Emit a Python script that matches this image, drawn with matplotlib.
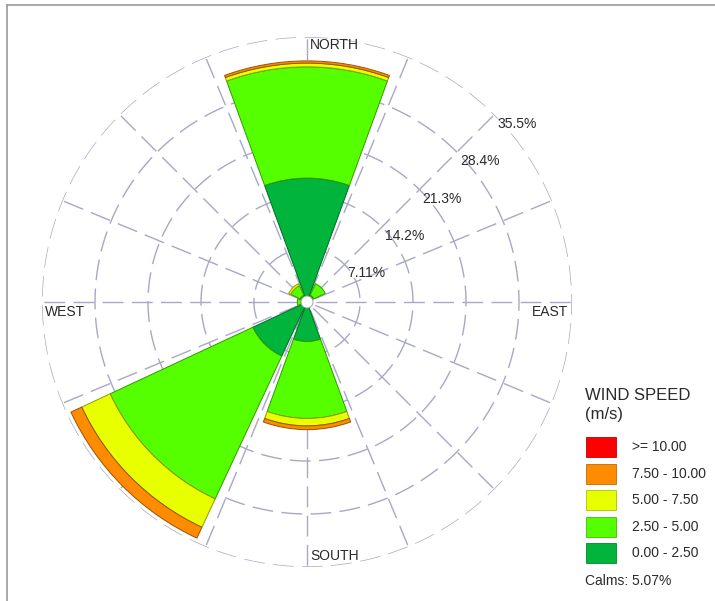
import numpy as np
import matplotlib
matplotlib.use("Agg")
import matplotlib.pyplot as plt
from matplotlib.patches import Rectangle, Circle

plt.rcParams["font.family"] = ["Liberation Sans", "DejaVu Sans"]

# ---- data: % frequency per direction sector, per speed class -------------------------
directions = ["N", "NE", "E", "SE", "S", "SW", "W", "NW"]
dir_deg = [0, 45, 90, 135, 180, 225, 270, 315]
speed_0_25 = [16.6, 1.0, 0.0, 0.0, 5.3, 8.0, 0.8, 1.0]
speed_25_5 = [14.9, 1.7, 0.0, 0.0, 10.3, 21.1, 0.5, 1.4]
speed_5_75 = [0.5, 0.0, 0.0, 0.0, 1.0, 4.2, 0.0, 0.3]
speed_75_10 = [0.3, 0.0, 0.0, 0.0, 0.5, 1.6, 0.0, 0.0]
speed_10_up = [0.0, 0.0, 0.0, 0.0, 0.0, 0.0, 0.0, 0.0]
calms_pct = 5.07

ring_values = [7.11, 14.2, 21.3, 28.4, 35.5]
ring_labels = ["7.11%", "14.2%", "21.3%", "28.4%", "35.5%"]
speed_labels = [">= 10.00", "7.50 - 10.00", "5.00 - 7.50", "2.50 - 5.00", "0.00 - 2.50"]

C = {"red": "#ff0000", "orange": "#ff8c00", "yellow": "#e8ff00",
     "lgreen": "#55ff00", "dgreen": "#00b43c", "grid": "#a8a8c6", "ink": "#2a2a2a"}
class_colors = [C["dgreen"], C["lgreen"], C["yellow"], C["orange"], C["red"]]


def darker(hexcol, f=0.6):
    rgb = matplotlib.colors.to_rgb(hexcol)
    return tuple(c * f for c in rgb)


W, H = 715, 601
fig = plt.figure(figsize=(W / 100, H / 100), dpi=100)

# polar axes: centre at (307, 302) px, outer ring radius 265 px
cx, cy, R = 307, 302, 265
ax = fig.add_axes([(cx - R) / W, (H - cy - R) / H, 2 * R / W, 2 * R / H], projection="polar")
ax.set_theta_zero_location("N")
ax.set_theta_direction(-1)
ax.set_ylim(0, ring_values[-1])
ax.grid(False)
ax.set_xticks([]); ax.set_yticks([])
ax.spines["polar"].set_visible(False)
ax.patch.set_alpha(0)

# dashed grid: rings + 16 spokes
dash = (0, (15, 6))
tt = np.linspace(0, 2 * np.pi, 361)
for rv in ring_values:
    ax.plot(tt, np.full_like(tt, rv), color=C["grid"], lw=1, ls=dash, zorder=1)
for k in range(16):
    th = np.deg2rad(k * 22.5)
    ax.plot([th, th], [1.2, ring_values[-1]], color=C["grid"], lw=1, ls=dash, zorder=1)

# stacked bars (skip empty segments so no stray outlines appear)
theta = np.deg2rad(dir_deg)
width = np.deg2rad(40)
bottom = np.zeros(len(directions))
for vals, col in zip([speed_0_25, speed_25_5, speed_5_75, speed_75_10, speed_10_up], class_colors):
    vals = np.array(vals)
    m = vals > 0
    if m.any():
        ax.bar(theta[m], vals[m], width=width, bottom=bottom[m], color=col,
               edgecolor=darker(col), linewidth=0.7, zorder=3)
    bottom += vals

# calms circle in the centre
ax.add_artist(Circle((0.5, 0.5), 6 / (2 * R), transform=ax.transAxes, facecolor="white",
                     edgecolor="#999999", linewidth=0.6, zorder=5))

# ring labels along the NE spoke
for rv, lab in zip(ring_values, ring_labels):
    ax.annotate(lab, (np.deg2rad(45), rv), textcoords="offset pixels", xytext=(3, -9),
                ha="left", va="center", fontsize=10, color=C["ink"], zorder=6)

# compass labels
ax.text(0.506, 0.985, "NORTH", transform=ax.transAxes, ha="left", va="center", fontsize=10, color=C["ink"])
ax.text(0.506, 0.021, "SOUTH", transform=ax.transAxes, ha="left", va="center", fontsize=10, color=C["ink"])
ax.text(0.006, 0.481, "WEST", transform=ax.transAxes, ha="left", va="center", fontsize=10, color=C["ink"])
ax.text(0.925, 0.481, "EAST", transform=ax.transAxes, ha="left", va="center", fontsize=10, color=C["ink"])

# ---- overlay in pixel coords: frame + legend ------------------------------------------
ov = fig.add_axes([0, 0, 1, 1])
ov.set_xlim(0, W); ov.set_ylim(H, 0)
ov.axis("off")
ov.patch.set_alpha(0)
ov.plot([7, 7], [5, H], color="#9a9a9a", lw=1.2)
ov.plot([7, W], [5, 5], color="#9a9a9a", lw=1.2)

ov.text(585, 396, "WIND SPEED", ha="left", va="center", fontsize=12, color=C["ink"])
ov.text(585, 415, "(m/s)", ha="left", va="center", fontsize=12, color=C["ink"])
legend_colors = class_colors[::-1]
for i, (col, lab) in enumerate(zip(legend_colors, speed_labels)):
    y0 = 437 + i * 26.6
    ov.add_patch(Rectangle((586, y0), 30, 20, facecolor=col, edgecolor=darker(col, 0.75), lw=0.6))
    ov.text(632, y0 + 10, lab, ha="left", va="center", fontsize=10, color=C["ink"])
ov.text(585, 581, f"Calms: {calms_pct:.2f}%", ha="left", va="center", fontsize=10, color=C["ink"])

fig.savefig("out.png", dpi=100)
